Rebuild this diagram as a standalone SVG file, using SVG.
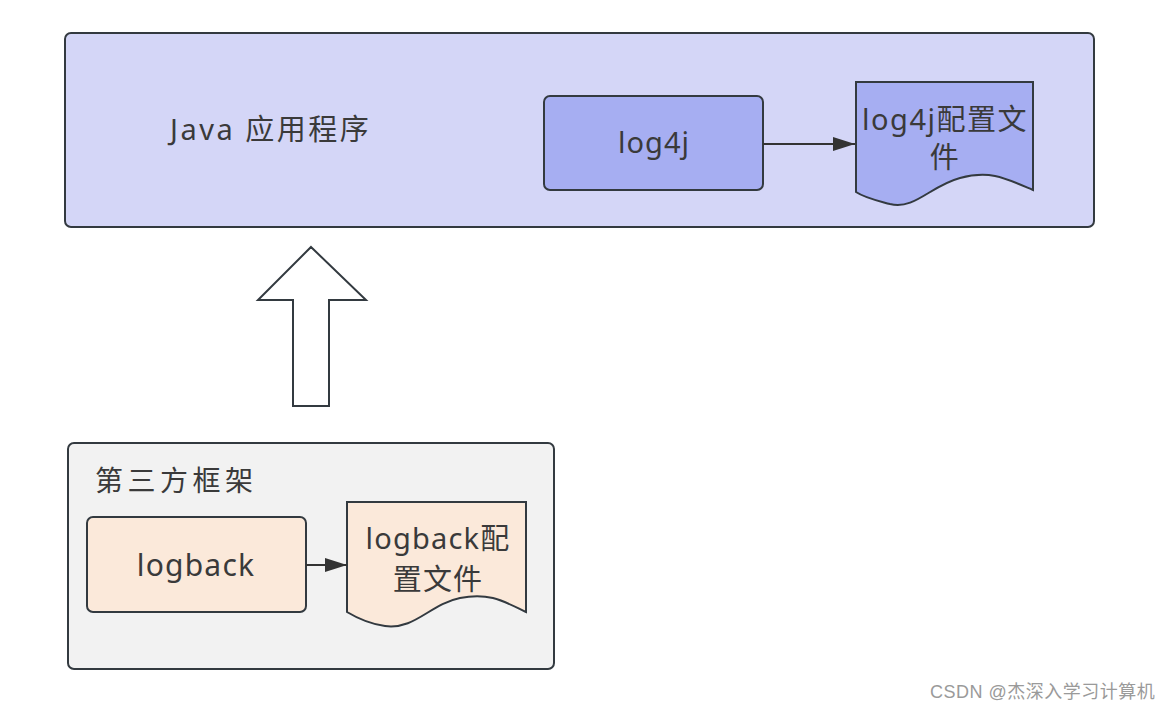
<svg xmlns="http://www.w3.org/2000/svg" width="1176" height="712" viewBox="0 0 1176 712">
<defs>
<style>
.box{stroke:#333a40;stroke-width:2}
.t{font-family:"Noto Sans","Noto Sans CJK SC",sans-serif;fill:#3a3a3a}
.conn{stroke:#333;stroke-width:2;fill:none}
</style>
<marker id="ah" markerWidth="22" markerHeight="14" refX="22" refY="7" orient="auto" markerUnits="userSpaceOnUse" viewBox="0 0 22 14">
<path d="M0,0 L22,7 L0,14 z" fill="#333"/>
</marker>
</defs>
<rect width="1176" height="712" fill="#fff"/>
<g id="app">
<rect class="box" x="65" y="33" width="1029" height="194" rx="6" fill="#d4d6f7"/>
<text class="t" x="170" y="140" font-size="29" letter-spacing="2.5">Java 应用程序</text>
</g>
<g id="log4j">
<rect class="box" x="544" y="96" width="219" height="94" rx="6" fill="#a6aef2"/>
<text class="t" x="654" y="153" font-size="29" text-anchor="middle" letter-spacing="1">log4j</text>
</g>
<g id="log4jcfg">
<path class="box" d="M856,82 L1033,82 L1033,190 C1005,178 990,170 960,178 C930,186 915,210 890,204 C875,200 865,198 856,192 Z" fill="#a6aef2"/>
<text class="t" font-size="29" text-anchor="middle" letter-spacing="1.5"><tspan x="945" y="130">log4j配置文</tspan><tspan x="945" y="168">件</tspan></text>
</g>
<g id="third">
<rect class="box" x="68" y="443" width="486" height="226" rx="6" fill="#f2f2f2"/>
<text class="t" x="95" y="491" font-size="28" letter-spacing="4.5">第三方框架</text>
</g>
<g id="logback">
<rect class="box" x="87" y="517" width="219" height="95" rx="6" fill="#fbe9da"/>
<text class="t" x="196" y="576" font-size="30" text-anchor="middle" letter-spacing="1.2">logback</text>
</g>
<g id="logbackcfg">
<path class="box" d="M347,502 L526,502 L526,612 C505,602 490,592 460,598 C430,604 415,630 385,626 C370,624 357,618 347,612 Z" fill="#fbe9da"/>
<text class="t" font-size="29" text-anchor="middle" letter-spacing="1.2"><tspan x="438" y="549">logback配</tspan><tspan x="438" y="590">置文件</tspan></text>
</g>
<g id="bigarrow">
<path d="M311,247 L366,300 L329,300 L329,406 L293,406 L293,300 L258,300 Z" fill="#fff" stroke="#333a40" stroke-width="2" stroke-linejoin="miter"/>
</g>
<g id="connectors">
<line class="conn" x1="763" y1="144" x2="855" y2="144" marker-end="url(#ah)"/>
<line class="conn" x1="306" y1="565" x2="347" y2="565" marker-end="url(#ah)"/>
</g>
<text x="930" y="698" font-family="Liberation Sans, Noto Sans CJK SC, sans-serif" font-size="18" letter-spacing="0.5" fill="#9a9a9a">CSDN @杰深入学习计算机</text>
</svg>
